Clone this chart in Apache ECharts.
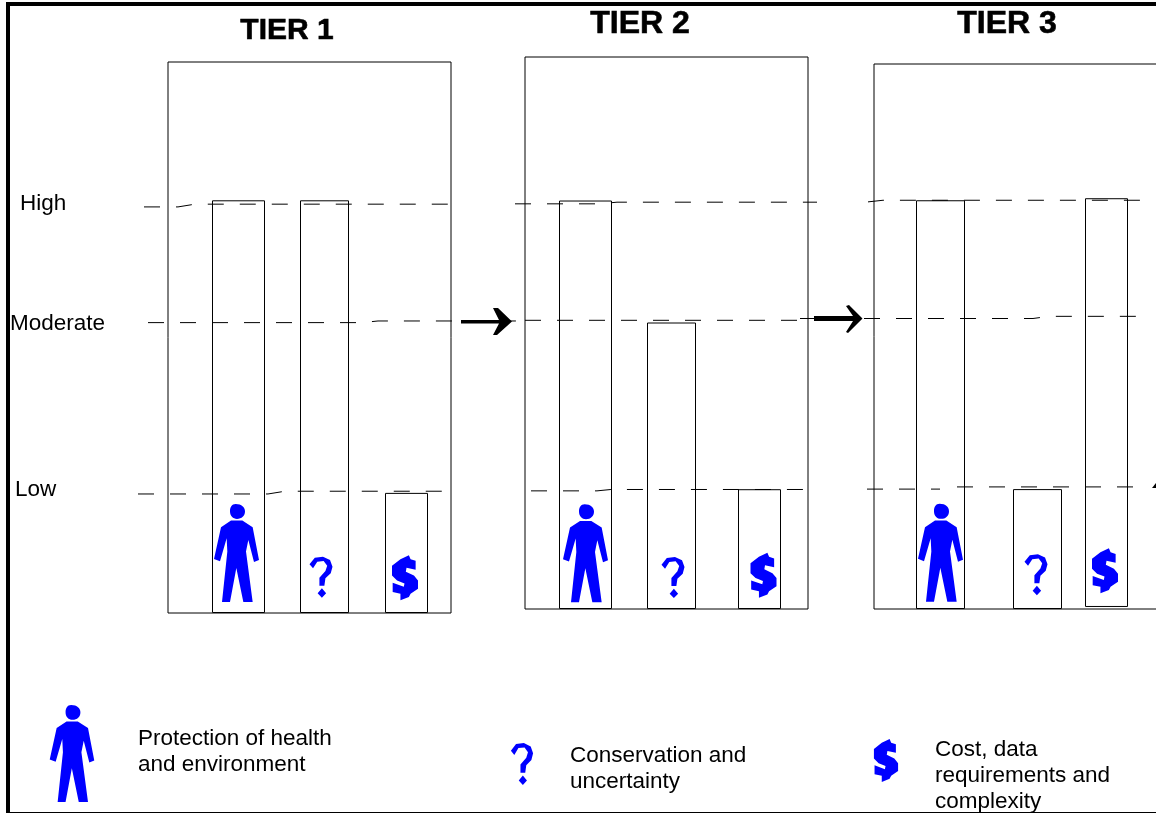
<!DOCTYPE html>
<html><head><meta charset="utf-8">
<style>html,body{margin:0;padding:0;background:#fff}#c{width:1156px;height:813px}</style>
<script src="https://cdn.jsdelivr.net/npm/echarts@6/dist/echarts.min.js"></script>
</head><body><div id="c"></div>
<script>
// ---- data (relative score, 0-100 on each panel) ----
const tierNames = ['TIER 1', 'TIER 2', 'TIER 3'];
const criteria = ['Protection of health and environment', 'Conservation and uncertainty', 'Cost, data requirements and complexity'];
const legendLabels = ['Protection of health\nand environment', 'Conservation and\nuncertainty', 'Cost, data\nrequirements and\ncomplexity'];
const tier1Values = [74.9, 74.9, 21.8];
const tier2Values = [74.0, 51.9, 21.7];
const tier3Values = [75.0, 22.0, 75.0];
const levelLabels = ['Low', 'Moderate', 'High'];
const levelLabelValues = [22.3, 52.4, 74.2];
// hand-drawn dashed level guides: [position across panel, score]
const tier1High = [[-24, 73.7], [10, 73.7], [27, 74.2], [287, 74.2]];
const tier1Moderate = [[-20, 52.7], [194, 52.7], [210, 53.0], [357, 53.0]];
const tier1Low = [[-30, 21.6], [100, 21.6], [117, 22.1], [282, 22.1]];
const tier2High = [[-10, 73.4], [75, 73.4], [92, 73.7], [292, 73.7]];
const tier2Moderate = [[0, 52.3], [280, 52.3]];
const tier2Low = [[6, 21.4], [72, 21.4], [86, 21.65], [283, 21.65]];
const tier3High = [[-6, 74.7], [9, 75.0], [270, 75.0]];
const tier3Moderate = [[-74, 53.3], [159, 53.3], [175, 53.7], [274, 53.7]];
const tier3LowA = [[-7, 22.0], [66, 22.0]];
const tier3LowB = [[83, 22.4], [263, 22.4]];

// ---- layout and styling ----
const INK = '#000', BLUE = '#0000ff', FONT = '"Liberation Sans", Arial, sans-serif';
const PERSON = 'path://M78 68L112 68L143 88L162 186L147 192L130 126L123 161L143 312L115 312L94 210L75 312L51 312L67 161L65 121L45 190L27 183L48 88ZM92 18C110 18 120 28 120 40C120 54 110 63 96 63C84 63 75 54 75 40C75 28 80 18 92 18Z';
const QUESTION = 'path://M30 58L45 38L68 35L88 45L95 65L90 85L75 100L72 122L58 122L58 98L75 78L80 62L70 48L52 50L40 70ZM65 130L77 145L65 158L53 145Z';
const DOLLAR = 'path://M300 40L325 28L330 40L345 45L345 72L318 66L316 78L340 90L352 105L352 130L330 145L325 155L300 165L300 145L277 140L277 112L310 124L312 114L290 105L275 90L275 60Z';
const ICONS = [PERSON, QUESTION, DOLLAR];
const ICON_SIZES = [[45, 98], [23, 41], [26, 45]];
const PANEL_W = 283, GUIDE_PAD = 200;

const panels = [
  { left: 168, top: 62, height: 551, values: tier1Values, barLefts: [44, 132, 217], barWidths: [53, 49, 43],
    icons: [[68.5, 10.9], [153, 6.5], [237, 6.4]], guides: [tier1High, tier1Moderate, tier1Low] },
  { left: 525, top: 57, height: 552, values: tier2Values, barLefts: [34, 122, 213], barWidths: [53, 49, 43],
    icons: [[60.5, 10.1], [148, 5.7], [238.5, 6.1]], guides: [tier2High, tier2Moderate, tier2Low] },
  { left: 874, top: 64, height: 545, values: tier3Values, barLefts: [42, 139, 211], barWidths: [49, 49, 43],
    icons: [[66.5, 10.3], [162, 6.3], [231, 7]], guides: [tier3High, tier3Moderate, tier3LowA, tier3LowB] }
];

const grid = [], xAxis = [], yAxis = [], series = [], title = [];
const titlePos = [[287, 16, 30], [640, 8, 32], [1007, 8, 32]];
panels.forEach((p, i) => {
  grid.push({ left: p.left, top: p.top, width: PANEL_W, height: p.height, show: true, borderColor: INK, borderWidth: 1, backgroundColor: 'transparent', outerBoundsMode: 'none' });
  xAxis.push({ gridIndex: i, type: 'value', min: 0, max: PANEL_W, show: false, splitLine: { show: false } });
  yAxis.push({ gridIndex: i, type: 'value', min: 0, max: 100, show: i === 0, axisLine: { show: false }, axisTick: { show: false }, splitLine: { show: false },
    axisLabel: i === 0 ? {
      customValues: levelLabelValues, margin: 158, align: 'left', color: INK, fontFamily: FONT, fontSize: 22.5,
      formatter: v => { const k = levelLabelValues.indexOf(v); return '{l' + k + '|' + levelLabels[k] + '}'; },
      rich: { l0: { padding: [0, 0, 0, 5] }, l1: { padding: [0, 0, 0, 0] }, l2: { padding: [0, 0, 0, 10] } }
    } : { show: false } });
  title.push({ text: tierNames[i], left: titlePos[i][0], top: titlePos[i][1], textAlign: 'center', padding: 0,
    textStyle: { color: INK, fontFamily: FONT, fontWeight: 'bold', fontSize: titlePos[i][2], textBorderColor: INK, textBorderWidth: 0.6 } });
});

// wider invisible planes on the same score scale, so the guides can run past each panel
panels.forEach((p, i) => {
  grid.push({ left: p.left - GUIDE_PAD, top: p.top, width: PANEL_W + 2 * GUIDE_PAD, height: p.height, show: false, outerBoundsMode: 'none' });
  xAxis.push({ gridIndex: 3 + i, type: 'value', min: -GUIDE_PAD, max: PANEL_W + GUIDE_PAD, show: false, splitLine: { show: false } });
  yAxis.push({ gridIndex: 3 + i, type: 'value', min: 0, max: 100, show: false, splitLine: { show: false } });
});

// second score axis on tier 3, whose zero sits slightly above the panel floor (the cost bar floats there)
xAxis.push({ gridIndex: 2, type: 'value', min: 0, max: PANEL_W, show: false, splitLine: { show: false } });
yAxis.push({ gridIndex: 2, type: 'value', min: -0.37, max: 99.63, show: false, splitLine: { show: false } });
const COST_X = 6, COST_Y = 6;

panels.forEach((p, i) => {
  p.values.forEach((v, k) => {
    const floats = i === 2 && k === 2;
    // bars sharing an x axis are left-aligned on half the width of that axis's last bar
    const lastW = i === 2 ? (floats ? p.barWidths[2] : p.barWidths[1]) : p.barWidths[2];
    const x = p.barLefts[k] + lastW / 2;
    series.push({ type: 'bar', name: 'bar ' + k, xAxisIndex: floats ? COST_X : i, yAxisIndex: floats ? COST_Y : i, barWidth: p.barWidths[k], barGap: '-100%',
      silent: true, animation: false, data: [[x, v]], itemStyle: { color: '#fff', borderColor: INK, borderWidth: 1 } });
  });
  p.guides.forEach(g => series.push({ type: 'line', name: 'guide', xAxisIndex: 3 + i, yAxisIndex: 3 + i, data: g, showSymbol: false, symbol: 'none', silent: true, animation: false, z: 4,
    lineStyle: { color: INK, width: 1, type: [16, 16] } }));
  p.icons.forEach((c, k) => series.push({ type: 'scatter', name: criteria[k], xAxisIndex: i, yAxisIndex: i, data: [c], symbol: ICONS[k], symbolSize: ICON_SIZES[k], clip: false, silent: true, animation: false, z: 5,
    itemStyle: { color: BLUE, opacity: 1 } }));
});

const legendBase = { padding: 0, selectedMode: false, formatter: () => '', itemGap: 0 };
const legend = [
  Object.assign({ left: 49, top: 705, itemWidth: 46, itemHeight: 97, icon: PERSON, data: [criteria[0]] }, legendBase),
  Object.assign({ left: 510, top: 743, itemWidth: 24, itemHeight: 42, icon: QUESTION, data: [criteria[1]] }, legendBase),
  Object.assign({ left: 873, top: 739, itemWidth: 26, itemHeight: 43, icon: DOLLAR, data: [criteria[2]] }, legendBase)
];
const legendTextAt = [[138, 726], [570, 743], [935, 737]];

const graphic = [
  { type: 'rect', silent: true, shape: { x: 6, y: 2, width: 4, height: 811 }, style: { fill: INK } },
  { type: 'rect', silent: true, shape: { x: 6, y: 2, width: 1150, height: 4 }, style: { fill: INK } },
  { type: 'rect', silent: true, shape: { x: 6, y: 812, width: 1150, height: 1 }, style: { fill: INK } },
  { type: 'polygon', silent: true, z: 10, shape: { points: [[461, 320], [499, 320], [493, 308], [498, 308], [512, 321.5], [497, 335], [493, 335], [499, 323.5], [461, 323.5]] }, style: { fill: INK } },
  { type: 'polygon', silent: true, z: 10, shape: { points: [[814, 316], [853, 316], [846, 306], [849, 305], [862.5, 318.5], [848, 333], [846, 332], [853, 321], [814, 321]] }, style: { fill: INK } },
  { type: 'polygon', silent: true, z: 10, shape: { points: [[1152, 488], [1156, 483], [1156, 488]] }, style: { fill: INK } }
].concat(legendLabels.map((t, i) => ({ type: 'text', silent: true, x: legendTextAt[i][0], y: legendTextAt[i][1],
  style: { text: t, fill: INK, font: '22.5px ' + FONT, lineHeight: 26, textVerticalAlign: 'top' } })));

const chart = echarts.init(document.getElementById('c'), null, { renderer: 'canvas' });
chart.setOption({ animation: false, backgroundColor: '#fff', title, grid, xAxis, yAxis, legend, series, graphic });
</script>
</body></html>
